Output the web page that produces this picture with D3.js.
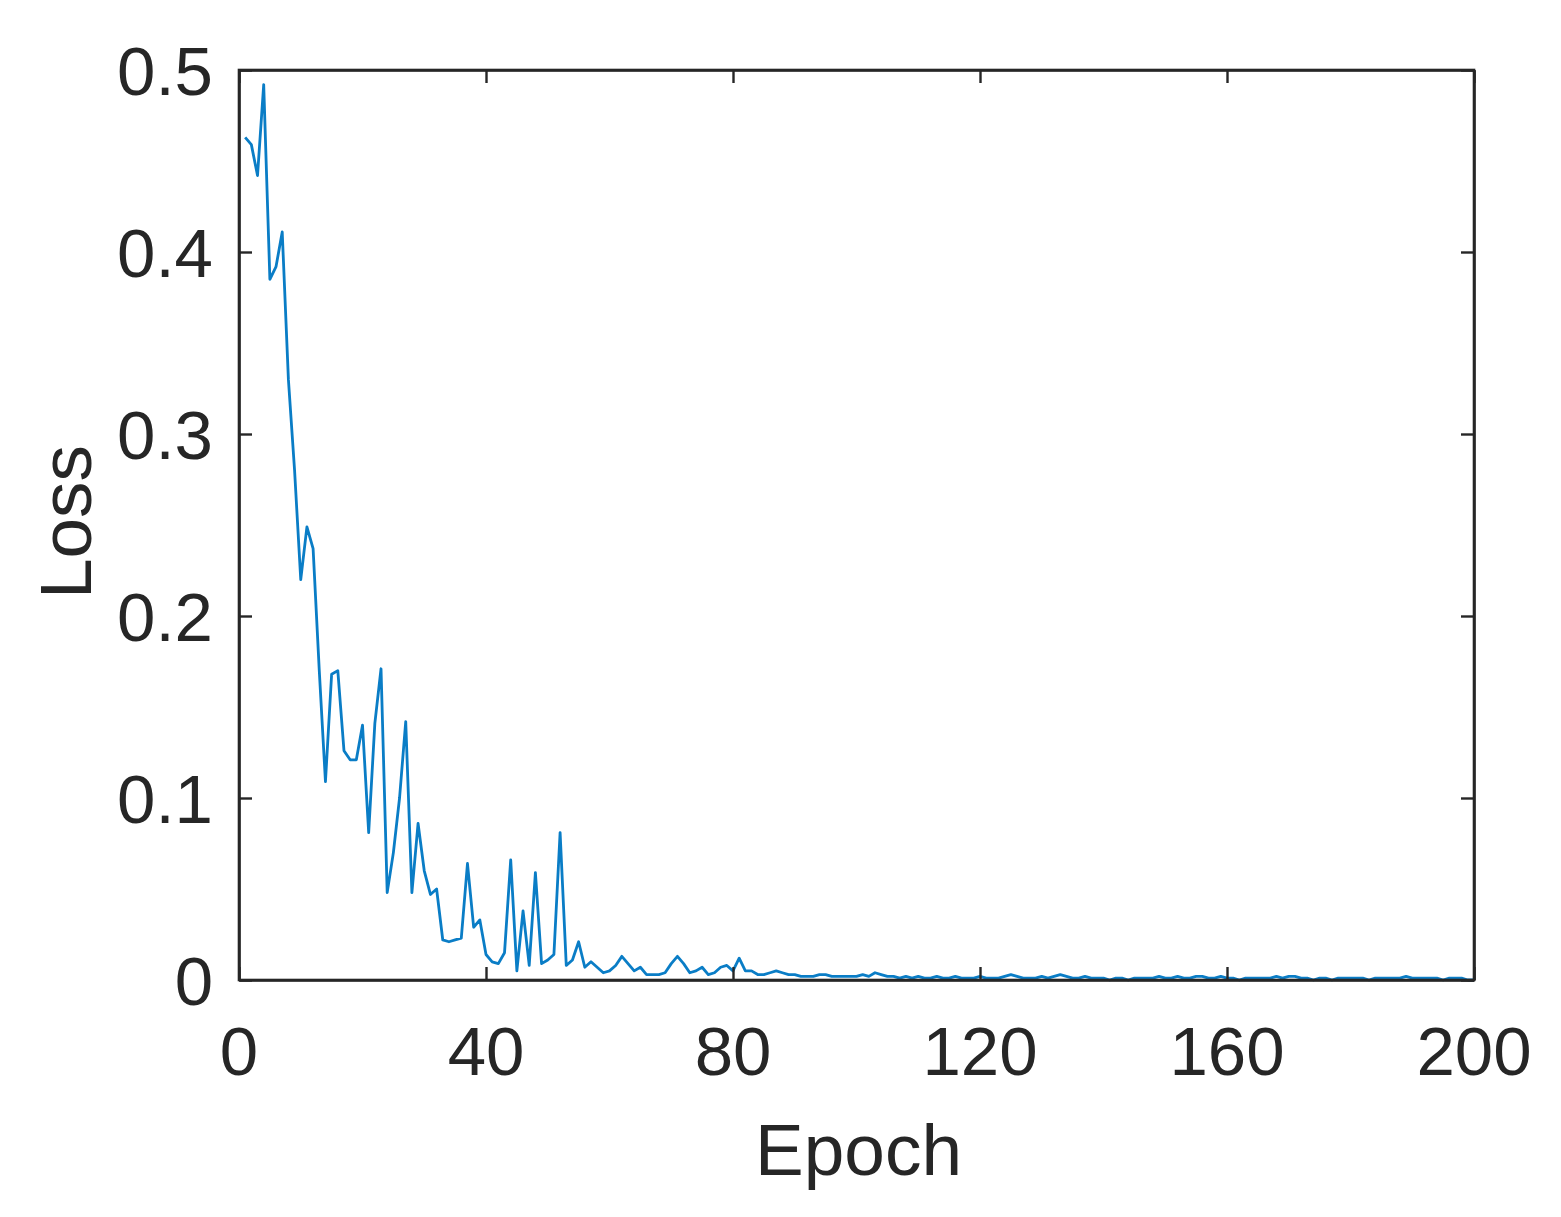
<!DOCTYPE html>
<html>
<head>
<meta charset="utf-8">
<script src="https://cdn.jsdelivr.net/npm/d3@7"></script>
<style>
  html, body { margin: 0; padding: 0; background: #ffffff; }
  svg { display: block; }
  text { font-family: "Liberation Sans", Arial, Helvetica, sans-serif; fill: #262626; }
</style>
</head>
<body>
<svg id="chart" width="1561" height="1217"></svg>
<script>
// ---- Data ----
const epochs = d3.range(1, 201);
const loss = [
  0.463, 0.459, 0.442, 0.492, 0.385, 0.392, 0.411, 0.330, 0.280, 0.220,
  0.249, 0.237, 0.170, 0.109, 0.168, 0.170, 0.126, 0.121, 0.121, 0.140,
  0.081, 0.141, 0.171, 0.048, 0.070, 0.100, 0.142, 0.048, 0.086, 0.060,
  0.047, 0.050, 0.022, 0.021, 0.022, 0.023, 0.064, 0.029, 0.033, 0.014,
  0.010, 0.009, 0.015, 0.066, 0.005, 0.038, 0.008, 0.059, 0.009, 0.011,
  0.014, 0.081, 0.008, 0.011, 0.021, 0.007, 0.010, 0.007, 0.004, 0.005,
  0.008, 0.013, 0.009, 0.005, 0.007, 0.003, 0.003, 0.003, 0.004, 0.009,
  0.013, 0.009, 0.004, 0.005, 0.007, 0.003, 0.004, 0.007, 0.008, 0.005,
  0.012, 0.005, 0.005, 0.003, 0.003, 0.004, 0.005, 0.004, 0.003, 0.003,
  0.002, 0.002, 0.002, 0.003, 0.003, 0.002, 0.002, 0.002, 0.002, 0.002,
  0.003, 0.002, 0.004, 0.003, 0.002, 0.002, 0.001, 0.002, 0.001, 0.002,
  0.001, 0.001, 0.002, 0.001, 0.001, 0.002, 0.001, 0.001, 0.001, 0.002,
  0.001, 0.001, 0.001, 0.002, 0.003, 0.002, 0.001, 0.001, 0.001, 0.002,
  0.001, 0.002, 0.003, 0.002, 0.001, 0.001, 0.002, 0.001, 0.001, 0.001,
  0.000, 0.001, 0.001, 0.000, 0.001, 0.001, 0.001, 0.001, 0.002, 0.001,
  0.001, 0.002, 0.001, 0.001, 0.002, 0.002, 0.001, 0.001, 0.002, 0.001,
  0.001, 0.000, 0.001, 0.001, 0.001, 0.001, 0.001, 0.002, 0.001, 0.002,
  0.002, 0.001, 0.001, 0.000, 0.001, 0.001, 0.000, 0.001, 0.001, 0.001,
  0.001, 0.001, 0.000, 0.001, 0.001, 0.001, 0.001, 0.001, 0.002, 0.001,
  0.001, 0.001, 0.001, 0.001, 0.000, 0.001, 0.001, 0.001, 0.000, 0.000
];
const xTicks = [0, 40, 80, 120, 160, 200];
const yTicks = [0, 0.1, 0.2, 0.3, 0.4, 0.5];
const xLabel = "Epoch";
const yLabel = "Loss";

// ---- Layout ----
const L = 239, R = 1474, T = 70, B = 980;
const tickLen = 13;
const axisColor = "#262626";

const svg = d3.select("#chart");
const x = d3.scaleLinear().domain([0, 200]).range([L, R]);
const y = d3.scaleLinear().domain([0, 0.5]).range([B, T]);

// Data line
const line = d3.line().x((d, i) => x(epochs[i])).y(d => y(d));
svg.append("path")
  .datum(loss)
  .attr("d", line)
  .attr("fill", "none")
  .attr("stroke", "#0a7dc6")
  .attr("stroke-width", 2.8)
  .attr("stroke-linejoin", "round");

// Axes via d3 (inward ticks)
const xAxisB = d3.axisBottom(x).tickValues(xTicks).tickSizeInner(-tickLen).tickSizeOuter(0).tickFormat("");
const xAxisT = d3.axisTop(x).tickValues(xTicks).tickSizeInner(-tickLen).tickSizeOuter(0).tickFormat("");
const yAxisL = d3.axisLeft(y).tickValues(yTicks).tickSizeInner(-tickLen).tickSizeOuter(0).tickFormat("");
const yAxisR = d3.axisRight(y).tickValues(yTicks).tickSizeInner(-tickLen).tickSizeOuter(0).tickFormat("");

function styleAxis(g) {
  g.selectAll("path.domain").attr("stroke", axisColor).attr("stroke-width", 2.6);
  g.selectAll(".tick line").attr("stroke", axisColor).attr("stroke-width", 2.4);
}
svg.append("g").attr("transform", `translate(0,${B})`).call(xAxisB).call(styleAxis);
svg.append("g").attr("transform", `translate(0,${T})`).call(xAxisT).call(styleAxis);
svg.append("g").attr("transform", `translate(${L},0)`).call(yAxisL).call(styleAxis);
svg.append("g").attr("transform", `translate(${R},0)`).call(yAxisR).call(styleAxis);

// Box outline
svg.append("rect")
  .attr("x", L).attr("y", T).attr("width", R - L).attr("height", B - T)
  .attr("fill", "none").attr("stroke", axisColor).attr("stroke-width", 2.6);

// Tick labels
const fs = 69;
svg.append("g").selectAll("text").data(xTicks).join("text")
  .attr("x", d => x(d))
  .attr("y", 1075)
  .attr("text-anchor", "middle")
  .attr("font-size", fs)
  .text(d => d3.format("d")(d));

svg.append("g").selectAll("text").data(yTicks).join("text")
  .attr("x", 213)
  .attr("y", d => y(d) + 24.5)
  .attr("text-anchor", "end")
  .attr("font-size", fs)
  .text(d => d === 0 ? "0" : d3.format(".1f")(d));

// Axis labels
svg.append("text")
  .attr("x", (L + R) / 2 + 2)
  .attr("y", 1175)
  .attr("text-anchor", "middle")
  .attr("font-size", 73)
  .text(xLabel);

svg.append("text")
  .attr("transform", `translate(91,${(T + B) / 2 - 3}) rotate(-90)`)
  .attr("text-anchor", "middle")
  .attr("font-size", 73)
  .text(yLabel);
</script>
</body>
</html>
